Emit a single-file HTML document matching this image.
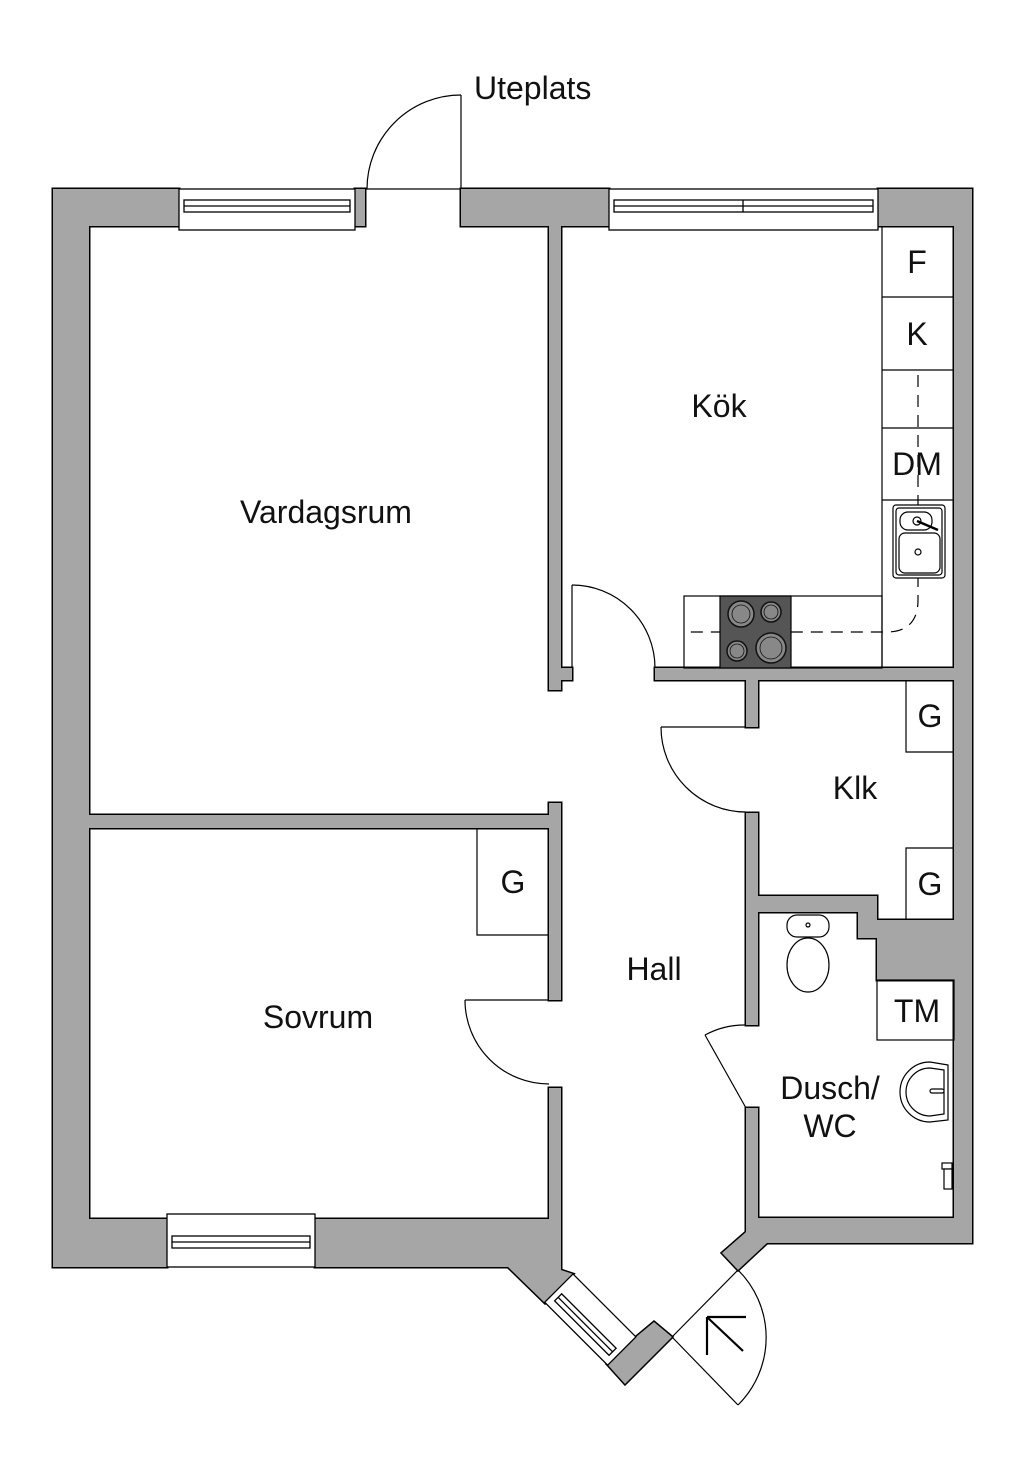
<!DOCTYPE html>
<html><head><meta charset="utf-8"><style>
html,body{margin:0;padding:0;background:#fff}
svg{display:block}
text{font-family:"Liberation Sans",sans-serif;fill:#111}
</style></head><body>
<svg width="1024" height="1482" viewBox="0 0 1024 1482" xmlns="http://www.w3.org/2000/svg">
<defs>
<g id="walls">
<rect x="53" y="189" width="126" height="37"/>
<rect x="355" y="189" width="10" height="37"/>
<rect x="461" y="189" width="148" height="37"/>
<rect x="878" y="189" width="94" height="37"/>
<rect x="53" y="189" width="36" height="1078"/>
<rect x="954" y="189" width="18" height="1054"/>
<rect x="53" y="1219" width="114" height="48"/>
<polygon points="315,1219 549,1219 549,1200 561,1200 561,1270 573,1274 545,1303 508,1267 315,1267"/>
<rect x="549" y="1088" width="12" height="182"/>
<polygon points="607,1364 625,1384 672,1337 654,1322 636,1337"/>
<polygon points="746,1218 972,1218 972,1243 767,1243 738,1270 722,1253 746,1232"/>
<rect x="549" y="226" width="12" height="464"/>
<rect x="561" y="668" width="11" height="12"/>
<rect x="655" y="668" width="299" height="12"/>
<rect x="746" y="680" width="12" height="47"/>
<rect x="746" y="813" width="12" height="212"/>
<rect x="746" y="1108" width="12" height="125"/>
<polygon points="758,896 877,896 877,920 954,920 954,980 877,980 877,938 858,938 858,912 758,912"/>
<rect x="89" y="815" width="460" height="13"/>
<rect x="549" y="803" width="12" height="197"/>
</g>
</defs>
<use href="#walls" fill="#000" stroke="#000" stroke-width="3"/>
<use href="#walls" fill="#a6a6a6" stroke="none"/>

<g fill="#fff" stroke="#000" stroke-width="1.3">
<rect x="179" y="189" width="176" height="41"/>
<rect x="184" y="200" width="166" height="12"/>
<line x1="184" y1="206" x2="350" y2="206"/>
<rect x="609" y="189" width="269" height="41"/>
<rect x="614" y="200" width="259" height="12"/>
<line x1="614" y1="206" x2="873" y2="206"/>
<line x1="743" y1="200" x2="743" y2="212"/>
<rect x="167" y="1214" width="148" height="53"/>
<rect x="172" y="1236" width="138" height="12"/>
<line x1="172" y1="1242" x2="310" y2="1242"/>
<g transform="translate(573,1274) rotate(45)">
<rect x="0" y="0" width="89" height="40"/>
<rect x="6" y="22" width="77" height="10"/>
<line x1="6" y1="27" x2="83" y2="27"/>
</g>
</g>

<g fill="none" stroke="#000" stroke-width="1.2">
<line x1="365" y1="189" x2="461" y2="189"/>
<line x1="461" y1="189" x2="461" y2="95"/>
<path d="M461,95 A94 94 0 0 0 367,189"/>
<line x1="572" y1="668" x2="572" y2="585"/>
<path d="M572,585 A83 83 0 0 1 655,668"/>
<line x1="746" y1="727" x2="661" y2="727"/>
<path d="M661,727 A85 85 0 0 0 746,812"/>
<line x1="549" y1="1000" x2="465" y2="1000"/>
<path d="M465,1000 A84 84 0 0 0 549,1084"/>
<line x1="746" y1="1108" x2="705" y2="1035"/>
<path d="M705,1035 A83 83 0 0 1 746,1025"/>
<line x1="672" y1="1337" x2="738" y2="1405"/>
<line x1="672" y1="1337" x2="738" y2="1270"/>
<path d="M738,1405 A95 95 0 0 0 738,1270"/>
<g stroke-width="2.2"><line x1="707" y1="1317" x2="707" y2="1355"/><line x1="707" y1="1317" x2="746" y2="1317"/><line x1="708" y1="1318" x2="743" y2="1351"/></g>
<line x1="882" y1="226" x2="882" y2="668"/>
<line x1="882" y1="297" x2="954" y2="297"/>
<line x1="882" y1="370" x2="954" y2="370"/>
<line x1="882" y1="428" x2="954" y2="428"/>
<line x1="882" y1="500" x2="954" y2="500"/>
<rect x="684" y="596" width="198" height="72"/>
<path d="M918,375 V600 Q918,632 886,632 H684" stroke-dasharray="12 8"/>
<polyline points="906,680 906,752 954,752"/>
<polyline points="954,848 906,848 906,920"/>
<polyline points="477,828 477,935 549,935"/>
<rect x="877" y="980" width="77" height="60"/>
</g>
<rect x="720" y="596" width="71" height="72" fill="#555" stroke="#000" stroke-width="1.2"/>
<g fill="#888" stroke="#111" stroke-width="1.5">
<circle cx="741" cy="614" r="13"/><circle cx="771" cy="612" r="10"/>
<circle cx="737" cy="651" r="10"/><circle cx="771" cy="648" r="15"/>
</g>
<g fill="none" stroke="#111" stroke-width="0.8">
<circle cx="741" cy="614" r="9"/><circle cx="771" cy="612" r="7"/>
<circle cx="737" cy="651" r="7"/><circle cx="771" cy="648" r="11"/>
</g>
<g fill="#fff" stroke="#000" stroke-width="1.2">
<rect x="893" y="505" width="52" height="73" rx="3"/>
<rect x="896" y="508" width="46" height="67" rx="3"/>
<rect x="900" y="512" width="32" height="18" rx="8"/>
<rect x="899" y="533" width="41" height="40" rx="6"/>
<circle cx="918" cy="552" r="3"/>
<circle cx="917" cy="521" r="4"/>
<line x1="917" y1="521" x2="938" y2="530" stroke-width="2.5"/>
</g>
<g fill="#fff" stroke="#000" stroke-width="1.2">
<ellipse cx="808" cy="965" rx="21" ry="27"/>
<rect x="787" y="915" width="42" height="22" rx="10"/>
<circle cx="808" cy="925" r="2"/>
</g>
<g fill="#fff" stroke="#000" stroke-width="1.2">
<path d="M948,1065 L930,1062 A30 30 0 1 0 930,1122 L948,1120 Z"/>
<path d="M944,1070 L930,1068 A24 24 0 1 0 930,1116 L944,1114 Z"/>
<rect x="930" y="1089" width="14" height="4" rx="2"/>
</g>
<g fill="#fff" stroke="#000" stroke-width="1.2">
<rect x="942" y="1163" width="10" height="6"/><rect x="944" y="1169" width="8" height="20"/>
</g>

<g font-size="32">
<text x="474" y="99">Uteplats</text>
<text x="326" y="523" text-anchor="middle">Vardagsrum</text>
<text x="719" y="417" text-anchor="middle">Kök</text>
<text x="654" y="980" text-anchor="middle">Hall</text>
<text x="318" y="1028" text-anchor="middle">Sovrum</text>
<text x="855" y="799" text-anchor="middle">Klk</text>
<text x="830" y="1099" text-anchor="middle">Dusch/</text>
<text x="830" y="1137" text-anchor="middle">WC</text>
<text x="930" y="727" text-anchor="middle">G</text>
<text x="930" y="895" text-anchor="middle">G</text>
<text x="513" y="893" text-anchor="middle">G</text>
<text x="917" y="1022" text-anchor="middle">TM</text>
<text x="917" y="273" text-anchor="middle">F</text>
<text x="917" y="345" text-anchor="middle">K</text>
<text x="917" y="475" text-anchor="middle">DM</text>
</g>
</svg>
</body></html>
